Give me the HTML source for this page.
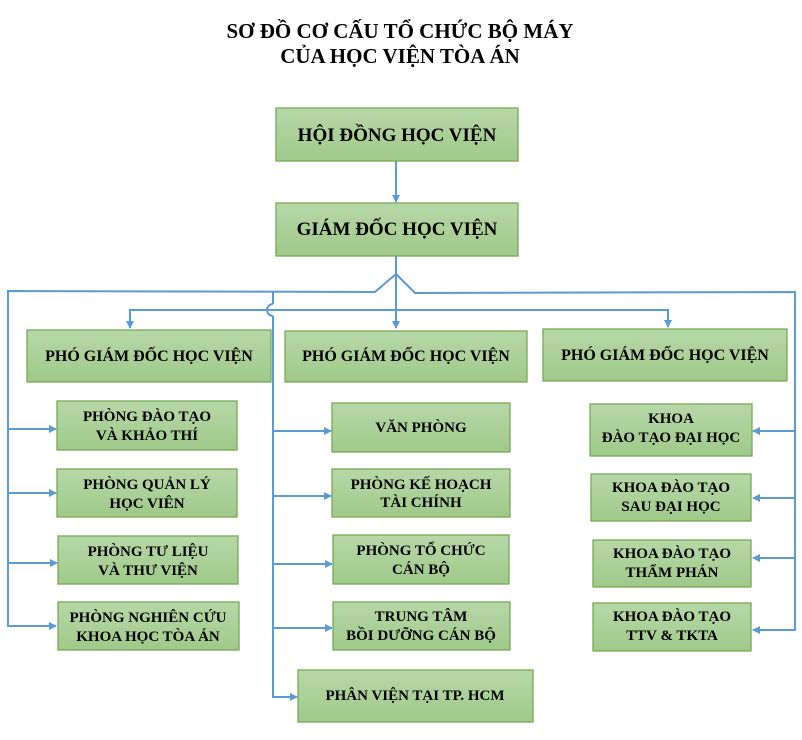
<!DOCTYPE html>
<html><head><meta charset="utf-8"><style>
html,body{margin:0;padding:0;background:#fff;}
svg{display:block;}
text{font-family:"Liberation Serif",serif;font-weight:bold;fill:#000;text-anchor:middle;}
.b{fill:url(#g);stroke:#77a954;stroke-width:1.3;}
.l{stroke:#5b9bd5;stroke-width:2;fill:none;}
</style></head><body>
<svg width="802" height="740" viewBox="0 0 802 740" xmlns="http://www.w3.org/2000/svg">
<defs>
<linearGradient id="g" x1="0" y1="0" x2="0" y2="1"><stop offset="0" stop-color="#b7d8a8"/><stop offset="1" stop-color="#a0c98a"/></linearGradient>
<marker id="a" markerWidth="8" markerHeight="8" refX="7" refY="4" orient="auto" markerUnits="userSpaceOnUse"><path d="M0,0 L8,4 L0,8 z" fill="#5b9bd5"/></marker>
</defs>
<text x="400" y="38" font-size="21">SƠ ĐỒ CƠ CẤU TỔ CHỨC BỘ MÁY</text>
<text x="400" y="63" font-size="21">CỦA HỌC VIỆN TÒA ÁN</text>

<line class="l" x1="396" y1="161" x2="396" y2="202" marker-end="url(#a)"/>
<line class="l" x1="396" y1="256" x2="396" y2="328" marker-end="url(#a)"/>
<polyline class="l" points="396,274 375,292 8,291 8,626 56,626" marker-end="url(#a)"/>
<polyline class="l" points="396,274 415,293 795,292 795,630 753,630" marker-end="url(#a)"/>
<line class="l" x1="8" y1="429" x2="56" y2="429" marker-end="url(#a)"/>
<line class="l" x1="8" y1="493" x2="56" y2="493" marker-end="url(#a)"/>
<line class="l" x1="8" y1="563" x2="57" y2="563" marker-end="url(#a)"/>
<line class="l" x1="795" y1="431" x2="753" y2="431" marker-end="url(#a)"/>
<line class="l" x1="795" y1="498" x2="753" y2="498" marker-end="url(#a)"/>
<line class="l" x1="795" y1="558" x2="753" y2="558" marker-end="url(#a)"/>
<polyline class="l" points="130,328 130,310 668,310 668,327" marker-end="url(#a)"/>
<line class="l" x1="130" y1="312" x2="130" y2="328" marker-end="url(#a)"/>
<line class="l" x1="273" y1="292" x2="273" y2="304"/>
<path class="l" d="M273,304 A6,6 0 0 0 273,316"/>
<polyline class="l" points="273,316 273,697 297,697" marker-end="url(#a)"/>
<line class="l" x1="273" y1="431" x2="331" y2="431" marker-end="url(#a)"/>
<line class="l" x1="273" y1="496" x2="331" y2="496" marker-end="url(#a)"/>
<line class="l" x1="273" y1="564" x2="332" y2="564" marker-end="url(#a)"/>
<line class="l" x1="273" y1="628" x2="332" y2="628" marker-end="url(#a)"/>

<rect class="b" x="276" y="108" width="242" height="53"/>
<text x="397" y="141" font-size="19">HỘI ĐỒNG HỌC VIỆN</text>
<rect class="b" x="276" y="203" width="242" height="53"/>
<text x="397" y="235" font-size="19">GIÁM ĐỐC HỌC VIỆN</text>

<rect class="b" x="27" y="330" width="244" height="52"/>
<text x="149" y="361" font-size="16">PHÓ GIÁM ĐỐC HỌC VIỆN</text>
<rect class="b" x="285" y="331" width="242" height="51"/>
<text x="406" y="361" font-size="16">PHÓ GIÁM ĐỐC HỌC VIỆN</text>
<rect class="b" x="543" y="329" width="244" height="52"/>
<text x="665" y="360" font-size="16">PHÓ GIÁM ĐỐC HỌC VIỆN</text>

<g font-size="15">
<rect class="b" x="57" y="401" width="180" height="49"/>
<text x="147" y="421" font-size="15">PHÒNG ĐÀO TẠO</text><text x="147" y="440" font-size="15">VÀ KHẢO THÍ</text>
<rect class="b" x="57" y="469" width="180" height="48"/>
<text x="147" y="489" font-size="15">PHÒNG QUẢN LÝ</text><text x="147" y="508" font-size="15">HỌC VIÊN</text>
<rect class="b" x="58" y="536" width="180" height="48"/>
<text x="148" y="556" font-size="15">PHÒNG TƯ LIỆU</text><text x="148" y="575" font-size="15">VÀ THƯ VIỆN</text>
<rect class="b" x="58" y="602" width="181" height="48"/>
<text x="148" y="622" font-size="15">PHÒNG NGHIÊN CỨU</text><text x="148" y="641" font-size="15">KHOA HỌC TÒA ÁN</text>

<rect class="b" x="332" y="403" width="178" height="49"/>
<text x="421" y="432" font-size="15">VĂN PHÒNG</text>
<rect class="b" x="332" y="469" width="178" height="48"/>
<text x="421" y="489" font-size="15">PHÒNG KẾ HOẠCH</text><text x="421" y="507" font-size="15">TÀI CHÍNH</text>
<rect class="b" x="333" y="535" width="176" height="49"/>
<text x="421" y="555" font-size="15">PHÒNG TỔ CHỨC</text><text x="421" y="574" font-size="15">CÁN BỘ</text>
<rect class="b" x="333" y="602" width="177" height="48"/>
<text x="421" y="621" font-size="15">TRUNG TÂM</text><text x="421" y="640" font-size="15">BỒI DƯỠNG CÁN BỘ</text>
<rect class="b" x="298" y="670" width="235" height="52"/>
<text x="415" y="700" font-size="15">PHÂN VIỆN TẠI TP. HCM</text>

<rect class="b" x="590" y="404" width="162" height="52"/>
<text x="671" y="423" font-size="15">KHOA</text><text x="671" y="442" font-size="15">ĐÀO TẠO ĐẠI HỌC</text>
<rect class="b" x="591" y="474" width="160" height="47"/>
<text x="671" y="492" font-size="15">KHOA ĐÀO TẠO</text><text x="671" y="511" font-size="15">SAU ĐẠI HỌC</text>
<rect class="b" x="593" y="540" width="158" height="47"/>
<text x="672" y="558" font-size="15">KHOA ĐÀO TẠO</text><text x="672" y="577" font-size="15">THẨM PHÁN</text>
<rect class="b" x="593" y="603" width="158" height="48"/>
<text x="672" y="621" font-size="15">KHOA ĐÀO TẠO</text><text x="672" y="640" font-size="15">TTV &amp; TKTA</text>
</g>
</svg>
</body></html>
